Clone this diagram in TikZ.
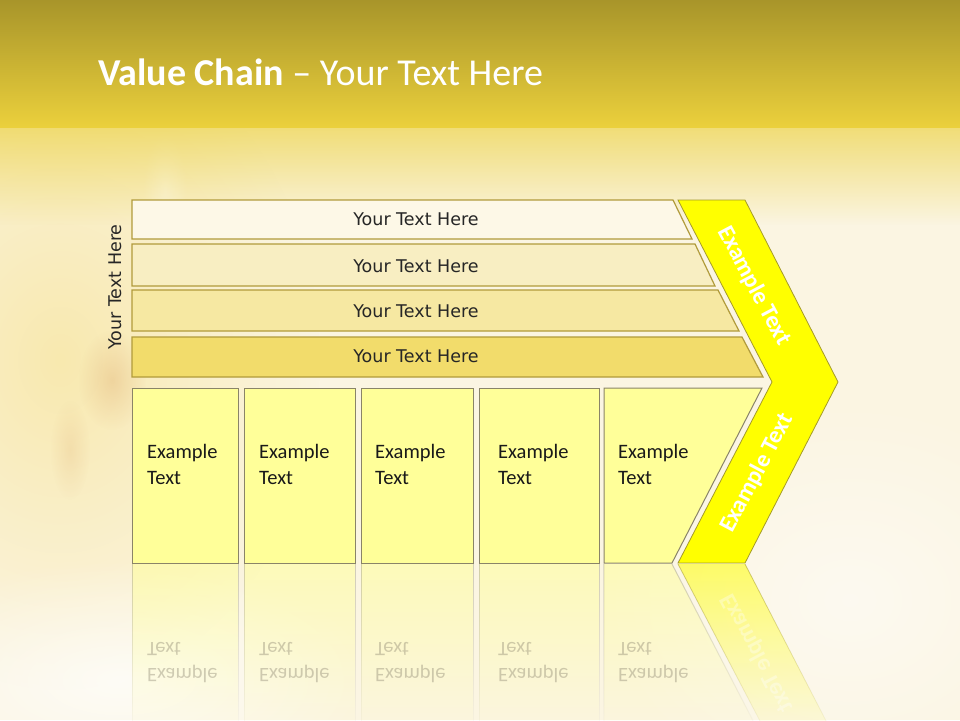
\documentclass[tikz,border=0pt]{standalone}
\usepackage{fontspec}
\usepackage{graphicx}
\setmainfont{Carlito}
\newfontfamily\dejavu{DejaVu Sans}
\usetikzlibrary{fadings}
\definecolor{bandtop}{HTML}{A8952A}
\definecolor{bandbot}{HTML}{EBD03C}
\definecolor{cream}{HTML}{FBF5E2}
\definecolor{leftyel}{HTML}{F8E6A2}
\definecolor{flower}{HTML}{D9A060}
\definecolor{barline}{HTML}{B19B3B}
\definecolor{barA}{HTML}{FDF8E7}
\definecolor{barB}{HTML}{F8EEC2}
\definecolor{barC}{HTML}{F6E8A2}
\definecolor{barD}{HTML}{F2DC6B}
\definecolor{boxfill}{HTML}{FFFF99}
\definecolor{boxline}{HTML}{8A8468}
\definecolor{chev}{HTML}{FFFF00}
\definecolor{chevline}{HTML}{A49A2A}
\definecolor{refltxt}{HTML}{7A7260}
\tikzfading[name=fadedown, top color=transparent!35, middle color=transparent!78, bottom color=transparent!100]
\tikzfading[name=blob, inner color=transparent!0, outer color=transparent!100]
\tikzfading[name=reflfade, top color=transparent!45, bottom color=transparent!100]
\begin{document}
\begin{tikzpicture}[x=1pt,y=-1pt,
  bar/.style={draw=barline, line width=1.2pt},
  ybox/.style={draw=boxline, fill=boxfill, line width=1pt},
  chevron/.style={draw=chevline, fill=chev, line width=0.8pt},
  bartext/.style={font=\dejavu\fontsize{17.5}{20}\selectfont, text=black!85, inner sep=0pt},
  boxtext/.style={font=\fontsize{20.5}{26}\selectfont, anchor=base west, inner sep=0pt, text=black!90},
  refltext/.style={font=\fontsize{20.5}{26}\selectfont, anchor=base west, inner sep=0pt, text=refltxt, opacity=0.35},
  chevtext/.style={font=\bfseries\fontsize{24}{28}\selectfont, text=white, inner sep=0pt},
  reflbox/.style={fill=boxfill, path fading=reflfade},
  reflline/.style={draw=boxline!70, line width=1pt, path fading=reflfade}]
\useasboundingbox (0,0) rectangle (960,720);
% background
\fill[cream] (0,0) rectangle (960,720);
\fill[leftyel, opacity=0.8, path fading=blob] (60,360) ellipse (260 and 330);
\fill[white, opacity=0.5, path fading=blob] (165,190) ellipse (22 and 60);
\fill[flower, opacity=0.3, path fading=blob] (112,380) ellipse (34 and 50);
\fill[flower, opacity=0.18, path fading=blob] (70,450) ellipse (20 and 50);
\fill[white, opacity=0.7, path fading=blob] (120,680) ellipse (260 and 120);
\fill[white, opacity=0.5, path fading=blob] (850,600) ellipse (250 and 200);
\shade[top color=bandtop, bottom color=bandbot] (0,0) rectangle (960,127);
\fill[bandbot, path fading=fadedown] (-10,126.5) rectangle (970,225);
% title
\node[anchor=base west, text=white, inner sep=0pt, font=\fontsize{38}{42}\selectfont] (title) at (98,85) {\textbf{Value Chain} – Your Text Here};
% bars
\draw[bar, fill=barA] (132,200) -- (673,200) -- (692,239) -- (132,239) -- cycle;
\draw[bar, fill=barB] (132,244) -- (695,244) -- (715,286) -- (132,286) -- cycle;
\draw[bar, fill=barC] (132,290) -- (718,290) -- (739,331) -- (132,331) -- cycle;
\draw[bar, fill=barD] (132,337) -- (742,337) -- (763,377) -- (132,377) -- cycle;
\node[bartext] (t1) at (416,219) {Your Text Here};
\node[bartext] (t2) at (416,266) {Your Text Here};
\node[bartext] (t3) at (416,311.5) {Your Text Here};
\node[bartext] (t4) at (416,356.5) {Your Text Here};
\node[bartext, rotate=90] (side) at (115,287) {Your Text Here};
% boxes
\draw[ybox] (132,388) rectangle (238,563);
\draw[ybox] (244,388) rectangle (355,563);
\draw[ybox] (361,388) rectangle (473,563);
\draw[ybox] (479,388) rectangle (599,563);
\draw[ybox] (604,388) -- (762,388) -- (672,563) -- (604,563) -- cycle;
\node[boxtext] (e1) at (147,458) {\begin{tabular}[t]{@{}l@{}}Example\\Text\end{tabular}};
\node[boxtext] (e2) at (259,458) {\begin{tabular}[t]{@{}l@{}}Example\\Text\end{tabular}};
\node[boxtext] (e3) at (375,458) {\begin{tabular}[t]{@{}l@{}}Example\\Text\end{tabular}};
\node[boxtext] (e4) at (498,458) {\begin{tabular}[t]{@{}l@{}}Example\\Text\end{tabular}};
\node[boxtext] (e5) at (618,458) {\begin{tabular}[t]{@{}l@{}}Example\\Text\end{tabular}};
% chevron
\draw[chevron] (678,200) -- (745,200) -- (838,382) -- (745,563) -- (678,563) -- (772,382) -- cycle;
\node[chevtext, rotate=-62] (c1) at (754,286) {Example Text};
\node[chevtext, rotate=62] (c2) at (757,473) {Example Text};
% reflection
\fill[reflbox] (132,564) rectangle (238,738);
\fill[reflbox] (244,564) rectangle (355,738);
\fill[reflbox] (361,564) rectangle (473,738);
\fill[reflbox] (479,564) rectangle (599,738);
\fill[reflbox] (604,564) -- (672,564) -- (762,738) -- (604,738) -- cycle;
\draw[reflline] (132,564) -- (132,738) -- (238,738) -- (238,564);
\draw[reflline] (244,564) -- (244,738) -- (355,738) -- (355,564);
\draw[reflline] (361,564) -- (361,738) -- (473,738) -- (473,564);
\draw[reflline] (479,564) -- (479,738) -- (599,738) -- (599,564);
\draw[reflline] (604,564) -- (604,738) -- (762,738) -- (672,564);
\fill[chev, path fading=reflfade] (678,564) -- (745,564) -- (838,744) -- (772,744) -- cycle;
\draw[draw=chevline, line width=0.8pt, path fading=reflfade] (678,564) -- (772,744) -- (838,744) -- (745,564);
\node[refltext] (r1) at (147,668) {\scalebox{1}[-1]{\begin{tabular}[t]{@{}l@{}}Example\\Text\end{tabular}}};
\node[refltext] (r2) at (259,668) {\scalebox{1}[-1]{\begin{tabular}[t]{@{}l@{}}Example\\Text\end{tabular}}};
\node[refltext] (r3) at (375,668) {\scalebox{1}[-1]{\begin{tabular}[t]{@{}l@{}}Example\\Text\end{tabular}}};
\node[refltext] (r4) at (498,668) {\scalebox{1}[-1]{\begin{tabular}[t]{@{}l@{}}Example\\Text\end{tabular}}};
\node[refltext] (r5) at (618,668) {\scalebox{1}[-1]{\begin{tabular}[t]{@{}l@{}}Example\\Text\end{tabular}}};
\node[chevtext, rotate=-62, opacity=0.35] (rc) at (757,653) {\scalebox{1}[-1]{Example Text}};
\end{tikzpicture}
\end{document}
